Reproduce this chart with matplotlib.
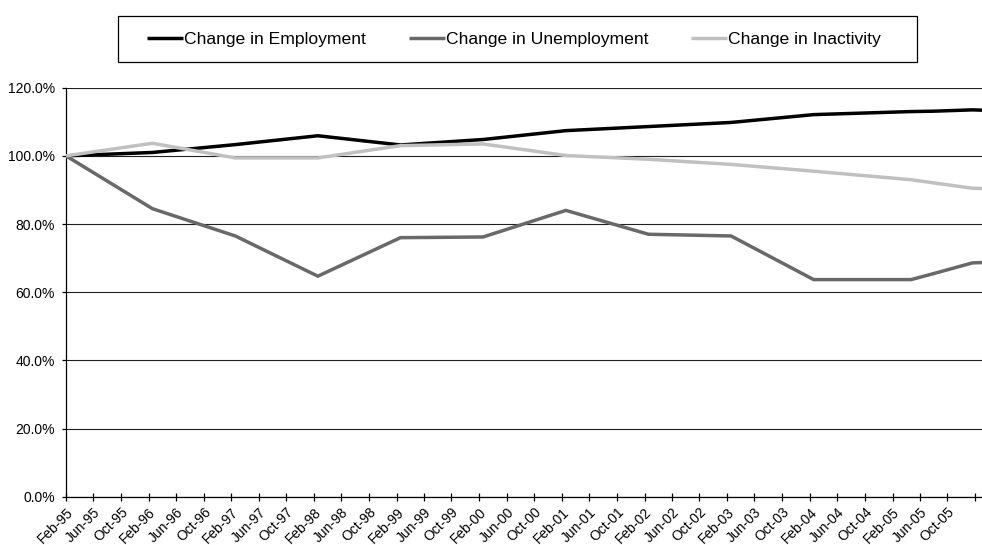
import matplotlib
matplotlib.use("Agg")
import matplotlib.pyplot as plt
import matplotlib.dates as mdates
from matplotlib.patches import Rectangle
import numpy as np
import pandas as pd

# survey dates (yearly, then a few extra points in 2005/06)
dates = pd.to_datetime([
    "1995-02-01", "1996-02-18", "1997-02-18", "1998-02-18", "1999-02-18",
    "2000-02-18", "2001-02-18", "2002-02-18", "2003-02-18", "2004-02-18",
    "2005-04-24", "2005-07-29", "2006-01-20", "2006-03-03",
])

employment = [100.0, 101.0, 103.3, 105.9, 103.2, 104.8, 107.4, 108.6, 109.8,
              112.1, 113.0, 113.1, 113.5, 113.4]
unemployment = [100.0, 84.5, 76.5, 64.7, 76.0, 76.2, 84.0, 77.0, 76.5,
                63.7, 63.7, 65.4, 68.6, 68.7]
inactivity = [100.0, 103.7, 99.4, 99.4, 103.0, 103.5, 100.1, 99.0, 97.5,
              95.5, 93.0, 92.1, 90.5, 90.4]

tick_labels = [
    "Feb-95", "Jun-95", "Oct-95", "Feb-96", "Jun-96", "Oct-96",
    "Feb-97", "Jun-97", "Oct-97", "Feb-98", "Jun-98", "Oct-98",
    "Feb-99", "Jun-99", "Oct-99", "Feb-00", "Jun-00", "Oct-00",
    "Feb-01", "Jun-01", "Oct-01", "Feb-02", "Jun-02", "Oct-02",
    "Feb-03", "Jun-03", "Oct-03", "Feb-04", "Jun-04", "Oct-04",
    "Feb-05", "Jun-05", "Oct-05", "",
]
tick_dates = pd.date_range("1995-02-01", periods=len(tick_labels), freq="4MS")

series = [
    ("Change in Employment", employment, "#000000"),
    ("Change in Unemployment", unemployment, "#696969"),
    ("Change in Inactivity", inactivity, "#c0c0c0"),
]

plt.rcParams["font.family"] = ["Liberation Sans", "DejaVu Sans"]

W, H = 982, 545
fig = plt.figure(figsize=(W / 100, H / 100), dpi=100)
ax = fig.add_axes([66 / W, 1 - 496.7 / H, 1 - 66 / W, (496.7 - 87.7) / H])

for label, values, color in series:
    ax.plot(dates, values, color=color, linewidth=2.5, label=label,
            solid_joinstyle="miter", solid_capstyle="butt", zorder=3)

ax.set_ylim(0, 120)
ax.set_yticks(np.arange(0, 121, 20))
ax.yaxis.set_major_formatter(plt.FuncFormatter(lambda v, _: f"{v:.1f}%"))
ax.yaxis.grid(True, color="#202020", linewidth=0.8)
ax.set_axisbelow(True)

ax.set_xlim(pd.Timestamp("1995-02-01"), pd.Timestamp("2006-03-03"))
ax.set_xticks(mdates.date2num(tick_dates))
ax.set_xticklabels(tick_labels, rotation=45, ha="right", va="top",
                   rotation_mode="anchor", fontsize=10)

ax.tick_params(axis="x", direction="inout", length=6, width=0.9, pad=3)
ax.tick_params(axis="y", direction="out", length=3, width=0.9, pad=5, labelsize=10)

for side in ("top", "right"):
    ax.spines[side].set_visible(False)
for side in ("left", "bottom"):
    ax.spines[side].set_color("black")
    ax.spines[side].set_linewidth(0.9)

# legend box drawn separately, Excel-style uneven padding
fig.patches.append(Rectangle((118 / W, 1 - 62 / H), (917 - 118) / W, 46 / H,
                             transform=fig.transFigure, fill=False,
                             edgecolor="black", linewidth=0.9))
fig.legend(loc="center left", ncol=3, bbox_to_anchor=(147 / W, 1 - 39 / H),
           fontsize=12.6, handlelength=2.06, handletextpad=0.05,
           columnspacing=2.45, frameon=False, borderaxespad=0, borderpad=0)

fig.savefig("out.png", dpi=100)
